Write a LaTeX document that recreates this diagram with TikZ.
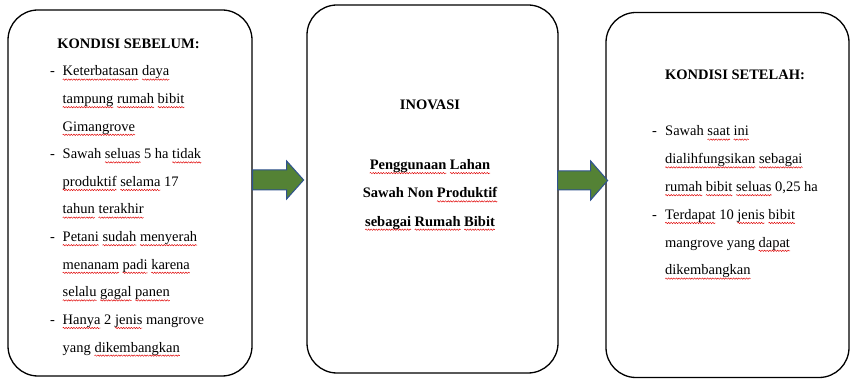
\documentclass[tikz,border=0pt]{standalone}
\usepackage{fontspec}
\setmainfont{Liberation Serif}
\usetikzlibrary{calc,decorations.pathmorphing}
\definecolor{agreen}{HTML}{548235}
\definecolor{ablue}{HTML}{2F528F}
\definecolor{sqred}{HTML}{E00000}
\newlength\sqw
\newsavebox\sqbox
\newcommand\sq[1]{\sbox\sqbox{#1}\setlength\sqw{\wd\sqbox}\leavevmode\rlap{\usebox\sqbox}\tikz[x=1pt,y=1pt,baseline=0pt]{\useasboundingbox (0,0) rectangle (\sqw,0);\draw[sqred, line width=0.45pt, decorate, decoration={snake, amplitude=0.7pt, segment length=2.6pt}] (0,-3.6) -- (\sqw,-3.6);}}
\newcommand\bodyf{\fontsize{14.5}{17}\selectfont}
\begin{document}
\begin{tikzpicture}[x=1pt,y=-1pt,
  box/.style={draw=black, line width=1.3pt, rounded corners=30pt, fill=white, inner sep=0},
  tl/.style={anchor=base west, inner sep=0, font=\bodyf},
  tc/.style={anchor=base, inner sep=0, font=\bodyf\bfseries},
  garrow/.style={draw=ablue, fill=agreen, line width=1pt, line join=miter}]
\useasboundingbox (0,0) rectangle (851,379);
% boxes
\node[box, minimum width=244pt, minimum height=366pt] (b1) at (130,193) {};
\node[box, minimum width=251pt, minimum height=368pt] (b2) at (432.5,189) {};
\node[box, minimum width=243pt, minimum height=365pt] (b3) at (727.5,195) {};
% arrows
\coordinate (t1) at (b1.east |- 0,180);
\coordinate (t2) at (b2.east |- 0,180.5);
\draw[garrow] (t1) ++(0,-10) -- ++(34,0) -- ++(0,-9) -- ++(17,19) -- ++(-17,19) -- ++(0,-9) -- ++(-34,0) -- cycle;
\draw[garrow] (t2) ++(-1,-9.5) -- ++(33,0) -- ++(0,-10) -- ++(17,19.5) -- ++(-17,19.5) -- ++(0,-10) -- ++(-33,0) -- cycle;
% box 1 text
\node[tc] (h1) at (128.5,49) {KONDISI SEBELUM:};
\node[tl] (d11) at (50,76) {-};
\node[tl] (l11) at (62.5,76) {\sq{Keterbatasan} \sq{daya}};
\node[tl] (l12) at (62.5,103.6) {\sq{tampung} \sq{rumah} \sq{bibit}};
\node[tl] (l13) at (62.5,131.2) {\sq{Gimangrove}};
\node[tl] (d12) at (50,158.8) {-};
\node[tl] (l14) at (62.5,158.8) {Sawah \sq{seluas} 5 ha \sq{tidak}};
\node[tl] (l15) at (62.5,186.4) {\sq{produktif} \sq{selama} 17};
\node[tl] (l16) at (62.5,214) {\sq{tahun} \sq{terakhir}};
\node[tl] (d13) at (50,241.6) {-};
\node[tl] (l17) at (62.5,241.6) {\sq{Petani} \sq{sudah} \sq{menyerah}};
\node[tl] (l18) at (62.5,269.2) {\sq{menanam} \sq{padi} \sq{karena}};
\node[tl] (l19) at (62.5,296.8) {\sq{selalu} \sq{gagal} \sq{panen}};
\node[tl] (d14) at (50,324.4) {-};
\node[tl] (l110) at (62.5,324.4) {\sq{Hanya} 2 \sq{jenis} mangrove};
\node[tl] (l111) at (62.5,352) {yang \sq{dikembangkan}};
% box 2 text
\node[tc] (h2) at (430,110) {INOVASI};
\node[tc] (l21) at (430,169.5) {\sq{Penggunaan} \sq{Lahan}};
\node[tc] (l22) at (430,197.8) {Sawah Non \sq{Produktif}};
\node[tc] (l23) at (430,226.1) {\sq{sebagai} \sq{Rumah} \sq{Bibit}};
% box 3 text
\node[tc] (h3) at (735,80) {KONDISI SETELAH:};
\node[tl] (d31) at (652,136) {-};
\node[tl] (l31) at (665,136) {Sawah \sq{saat} \sq{ini}};
\node[tl] (l32) at (665,163.8) {\sq{dialihfungsikan} \sq{sebagai}};
\node[tl] (l33) at (665,191.6) {\sq{rumah} \sq{bibit} \sq{seluas} 0,25 ha};
\node[tl] (d32) at (652,219.4) {-};
\node[tl] (l34) at (665,219.4) {\sq{Terdapat} 10 \sq{jenis} \sq{bibit}};
\node[tl] (l35) at (665,247.2) {mangrove yang \sq{dapat}};
\node[tl] (l36) at (665,275) {\sq{dikembangkan}};
\end{tikzpicture}
\end{document}
